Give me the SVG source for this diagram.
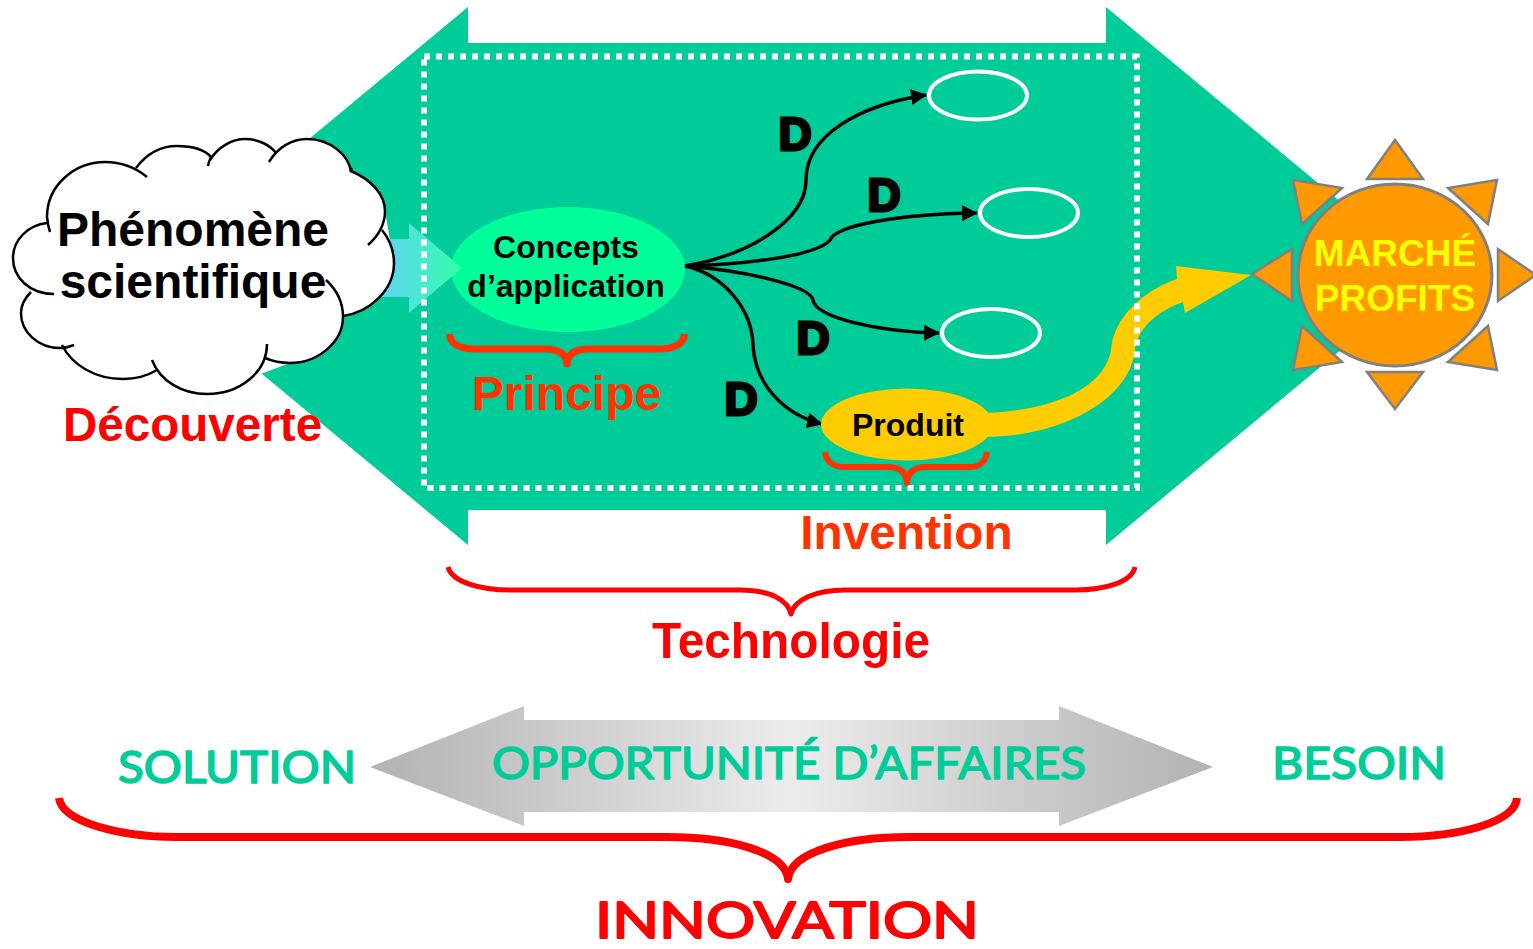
<svg xmlns="http://www.w3.org/2000/svg" xmlns:xlink="http://www.w3.org/1999/xlink" width="1533" height="949" viewBox="0 0 1533 949">
<style>
text{font-family:"Liberation Sans",Arial,sans-serif;font-weight:700;text-anchor:middle}
.com{font-family:"Comic Sans MS","Lato","DejaVu Sans",sans-serif;font-weight:400;stroke-linejoin:round;stroke-linecap:round}
.teal{fill:#00CC99;stroke:#00CC99;stroke-width:1.6}
.red{fill:#FF0000}
.or{fill:#FF3300}
.k{fill:#000}
.y{fill:#FFFF00}
.d{fill:#000;stroke:#000;stroke-width:3;font-size:46px}
.conn{fill:none;stroke:#000;stroke-width:3.5;marker-end:url(#ah)}
.oval{fill:none;stroke:#fff;stroke-width:4}
.ray{fill:#FF9900;stroke:#808080;stroke-width:2.5;stroke-linejoin:miter}
.br{fill:none;stroke-linecap:butt;stroke-linejoin:round}
</style>
<defs>
<marker id="ah" markerUnits="userSpaceOnUse" markerWidth="16" markerHeight="16" refX="15" refY="8" orient="auto"><path d="M0 0L16 8L0 16Z" fill="#000"/></marker>
<linearGradient id="ga" x1="0" x2="1" y1="0" y2="0"><stop offset="0" stop-color="#66CCFF"/><stop offset="1" stop-color="#33FFAA"/></linearGradient>
<linearGradient id="gg" x1="0" x2="1" y1="0" y2="0"><stop offset="0" stop-color="#B2B2B2"/><stop offset=".5" stop-color="#ECECEC"/><stop offset="1" stop-color="#B2B2B2"/></linearGradient>
<g id="bumps">
<path d="M50 232Q48 226 47 217C47 185 75 162 105 162C122 162 136 168 147 177"/>
<path d="M136 168C148 152 163 146 177 146C192 146 205 150 211 157Q209 161 208 166"/>
<path d="M210 160C218 147 232 139 245 139C258 139 270 145 276 153"/>
<path d="M269 162C278 147 292 139 307 139C330 139 349 155 351 172Q352 166 351 171"/>
<path d="M351 171C372 180 385 195 385 211C385 225 377 237 368 245"/>
<path d="M382 230C390 240 394 251 394 263C394 290 370 312 343 316"/>
<path d="M326 280C337 290 343 303 343 317C343 342 318 363 290 363C280 363 272 361 265 358"/>
<path d="M267 344C267 372 240 394 207 394C182 394 160 381 152 360"/>
<path d="M157 370C147 376 136 379 123 379C95 379 72 365 62 345"/>
<path d="M74 345Q67 348 60 348C38 348 21 332 21 313C21 305 25 298 31 292"/>
<path d="M54 294C30 294 13 278 13 258C13 240 28 225 47 223"/>
</g>
</defs>

<g id="band"><path d="M144 276L468 7V43H1106V7L1430 276L1106 545V510H468V545Z" fill="#00CC99"/></g>
<g id="concepts"><ellipse cx="568" cy="269.500" rx="117" ry="62.500" fill="#00FF99"/>
<text class="k" font-size="32" x="566" y="258">Concepts</text>
<text class="k" font-size="32" x="566" y="297">d’application</text></g>
<g id="push"><path d="M370 239H409V223L462 268L409 313V297H370Z" fill="url(#ga)"/></g>

<g id="cloud">
<g fill="#fff" stroke="none"><path d="M47 223L105 170L177 150L245 142L307 142L351 172L385 211L394 263L343 316L290 363L207 394L123 379L62 345L31 292L13 258Z"/><use xlink:href="#bumps" href="#bumps"/></g>
<use xlink:href="#bumps" href="#bumps" fill="none" stroke="#000" stroke-width="2.500"/>
<text class="k" font-size="48" x="193" y="246">Phénomène</text>
<text class="k" font-size="48" x="193" y="298">scientifique</text>
</g>
<g id="decouverte"><text class="red" font-size="47.600" x="192.500" y="441">Découverte</text></g>

<g id="connectors">
<path class="conn" d="M685 266C750 255 806 220 806 180C806 135 860 105 926 95"/>
<path class="conn" d="M685 266C730 265 815 258 830 240C836 225 900 214 977 213"/>
<path class="conn" d="M685 266C740 270 810 285 813 300C816 318 880 332 939 333"/>
<path class="conn" d="M685 266C725 275 752 310 753 345C755 385 785 415 822 424"/>
</g>

<g id="flow"><path d="M985 413C1060 410 1105 385 1111 350C1113 320 1140 292 1177 279L1176 266L1251 275L1185 313L1183 302C1155 312 1137 330 1135 350C1130 400 1060 437 985 437Z" fill="#FFCC00"/></g>
<g id="frame"><rect x="424" y="56.500" width="713" height="431.500" fill="none" stroke="#fff" stroke-width="6" stroke-dasharray="6 6"/></g>

<g id="o1"><ellipse class="oval" cx="978" cy="95.500" rx="49" ry="24"/></g>
<g id="o2"><ellipse class="oval" cx="1029" cy="213" rx="49" ry="24"/></g>
<g id="o3"><ellipse class="oval" cx="991" cy="333" rx="49" ry="24"/></g>
<g id="produit"><ellipse cx="907" cy="424.500" rx="86" ry="36" fill="#FFCC00"/>
<text class="k" font-size="32" x="908" y="436">Produit</text></g>

<g id="ds">
<text class="d" x="795" y="150">D</text>
<text class="d" x="884" y="211">D</text>
<text class="d" x="813" y="354">D</text>
<text class="d" x="741" y="415">D</text>
</g>

<g id="braces">
<path class="br" stroke="#FF3300" stroke-width="7" d="M449.500 334C450 344 460 349 475 349H545Q566 349 567 364Q568 349 589 349H660C674 349 684 344 684.500 334"/>
<path class="br" stroke="#FF3300" stroke-width="6" d="M825 452C826 461 833 467 845 467H888Q906 467 907 483Q908 467 926 467H970C980 467 986 461 987 452"/>
<path class="br" stroke="#FF0000" stroke-width="5" d="M448 567C452 582 480 590 510 590H740C770 590 788 600 791 614C794 600 815 590 845 590H1075C1105 590 1132 582 1135 567"/>
<path class="br" stroke="#FF0000" stroke-width="8" d="M59 798C62 822 120 837 176 837H667C730 837 785 852 788 879C791 852 846 837 909 837H1400C1460 837 1515 822 1517 798"/>
</g>
<g id="principe"><text class="or" font-size="48" x="566.500" y="410">Principe</text></g>
<g id="invention"><text class="or" font-size="47.800" x="906.500" y="549">Invention</text></g>
<g id="technologie"><text class="red" font-size="49.500" x="791" y="658" textLength="278" lengthAdjust="spacingAndGlyphs">Technologie</text></g>

<g id="sun">
<polygon class="ray" points="1395,140 1367,179 1423,179"/>
<polygon class="ray" points="1367,372 1423,372 1395,409"/>
<polygon class="ray" points="1252,274 1292,249 1292,301"/>
<polygon class="ray" points="1498,249 1498,301 1536,275"/>
<polygon class="ray" points="1293,180 1342,188 1302,224"/>
<polygon class="ray" points="1497,180 1448,188 1488,224"/>
<polygon class="ray" points="1293,370 1342,362 1302,326"/>
<polygon class="ray" points="1497,370 1448,362 1488,326"/>
<ellipse cx="1395" cy="275" rx="97" ry="91" fill="#FF9900" stroke="#808080" stroke-width="3"/>
<text class="y" font-size="37" x="1395" y="266">MARCHÉ</text>
<text class="y" font-size="37" x="1395" y="311">PROFITS</text>
</g>

<g id="opportunite">
<path d="M370 767L524 706V720H1059V706L1213 767L1059 826V812H524V826Z" fill="url(#gg)"/>
<text class="com teal" font-size="44" x="789" y="779" textLength="594" lengthAdjust="spacingAndGlyphs">OPPORTUNITÉ D’AFFAIRES</text>
</g>
<g id="solution"><text class="com teal" font-size="44" x="237" y="783" textLength="238" lengthAdjust="spacingAndGlyphs">SOLUTION</text></g>
<g id="besoin"><text class="com teal" font-size="44" x="1359" y="779" textLength="174" lengthAdjust="spacingAndGlyphs">BESOIN</text></g>
<g id="innovation"><text class="com" fill="#FF0000" stroke="#FF0000" stroke-width="2" font-size="50" x="787" y="938" textLength="384" lengthAdjust="spacingAndGlyphs">INNOVATION</text></g>
</svg>
